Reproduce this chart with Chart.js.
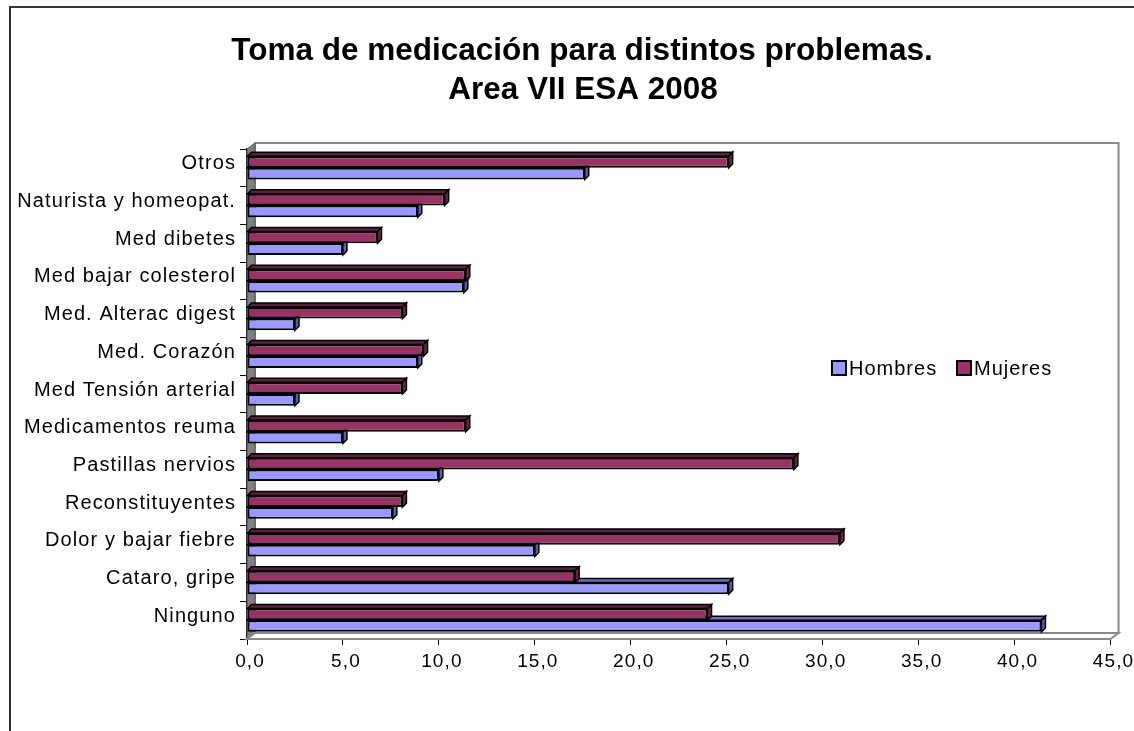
<!DOCTYPE html>
<html lang="es">
<head>
  <meta charset="UTF-8" />
  <title>Toma de medicación</title>
  <script src="https://cdn.jsdelivr.net/npm/chart.js"></script>
  <style>
    * {
      box-sizing: border-box;
    }
    body {
      margin: 0;
      background: #fff;
    }
    .box {
      width: 1134px;
      height: 731px;
    }
  </style>
</head>
<body>
  <div class="box">
    <canvas id="chart" width="1134" height="731"></canvas>
  </div>
  <script>
  const categories = ["Otros", "Naturista y homeopat.", "Med dibetes", "Med bajar colesterol", "Med. Alterac digest", "Med. Corazón", "Med Tensión arterial", "Medicamentos reuma", "Pastillas nervios", "Reconstituyentes", "Dolor y bajar fiebre", "Cataro, gripe", "Ninguno"];
  const hombres = [17.6, 8.9, 5.0, 11.3, 2.5, 8.9, 2.5, 5.0, 10.0, 7.6, 15.0, 25.1, 41.4];
  const mujeres = [25.1, 10.3, 6.8, 11.4, 8.1, 9.2, 8.1, 11.4, 28.5, 8.1, 30.9, 17.1, 24.0];
  const xTicks = [0, 5, 10, 15, 20, 25, 30, 35, 40, 45];
  const titleLines = ["Toma de medicación para distintos problemas.", "Area VII ESA 2008"];

  const FONT = "'Liberation Sans', Arial, sans-serif";
  const DX = 8;     // depth of the walls, horizontal
  const DY = 6;     // depth of the walls, vertical
  const BAR_D = 4;  // depth of each bar

  // outer frame, white background, title
  const framePlugin = {
    id: 'frame',
    beforeDraw(chart) {
      const ctx = chart.ctx;
      ctx.save();
      ctx.fillStyle = '#fff';
      ctx.fillRect(0, 0, chart.width, chart.height);
      ctx.strokeStyle = '#333';
      ctx.lineWidth = 2;
      ctx.strokeRect(10, 7, chart.width + 20, chart.height + 20);
      ctx.letterSpacing = '0px';
      ctx.fillStyle = '#000';
      ctx.font = 'bold 31.5px ' + FONT;
      ctx.textAlign = 'center';
      ctx.textBaseline = 'middle';
      ctx.fillText(titleLines[0], 582, 51);
      ctx.fillText(titleLines[1], 583, 90);
      ctx.restore();
      // excel spreads its letters a bit
      ctx.letterSpacing = '1.1px';
    }
  };

  // excel-like 3d walls behind the bars
  const wallsPlugin = {
    id: 'walls',
    beforeDatasetsDraw(chart) {
      const { left: L, right: R, top: T, bottom: B } = chart.chartArea;
      const ctx = chart.ctx;
      ctx.save();
      // back wall
      ctx.fillStyle = '#fff';
      ctx.strokeStyle = '#8a8a8a';
      ctx.lineWidth = 2;
      ctx.fillRect(L + DX, T - DY, R - L, B - T);
      ctx.strokeRect(L + DX, T - DY, R - L, B - T);
      // left wall
      ctx.fillStyle = '#808080';
      ctx.beginPath();
      ctx.moveTo(L, T);
      ctx.lineTo(L + DX, T - DY);
      ctx.lineTo(L + DX, B - DY);
      ctx.lineTo(L, B);
      ctx.closePath();
      ctx.fill();
      ctx.strokeStyle = '#555';
      ctx.lineWidth = 1;
      ctx.stroke();
      // floor
      ctx.fillStyle = '#fff';
      ctx.strokeStyle = '#8a8a8a';
      ctx.beginPath();
      ctx.moveTo(L, B);
      ctx.lineTo(L + DX, B - DY);
      ctx.lineTo(R + DX, B - DY);
      ctx.lineTo(R, B);
      ctx.closePath();
      ctx.fill();
      ctx.lineWidth = 2;
      ctx.stroke();
      ctx.restore();
    }
  };

  // top and side faces of each bar
  const bar3dPlugin = {
    id: 'bar3d',
    afterDatasetDraw(chart, args) {
      const ds = chart.data.datasets[args.index];
      const ctx = chart.ctx;
      const d = BAR_D;
      ctx.save();
      ctx.lineWidth = 1.5;
      ctx.strokeStyle = '#000';
      args.meta.data.forEach(bar => {
        const top = bar.y - bar.height / 2;
        const bot = bar.y + bar.height / 2;
        const x0 = bar.base;
        const x1 = bar.x;
        // top face
        ctx.fillStyle = ds.topColor;
        ctx.beginPath();
        ctx.moveTo(x0, top);
        ctx.lineTo(x0 + d, top - d);
        ctx.lineTo(x1 + d, top - d);
        ctx.lineTo(x1, top);
        ctx.closePath();
        ctx.fill();
        ctx.stroke();
        // right face
        ctx.fillStyle = ds.sideColor;
        ctx.beginPath();
        ctx.moveTo(x1, top);
        ctx.lineTo(x1 + d, top - d);
        ctx.lineTo(x1 + d, bot - d);
        ctx.lineTo(x1, bot);
        ctx.closePath();
        ctx.fill();
        ctx.stroke();
      });
      ctx.restore();
    }
  };

  // legend sitting inside the plot, Hombres first
  const legendPlugin = {
    id: 'sideLegend',
    afterDraw(chart) {
      const ctx = chart.ctx;
      const items = [chart.data.datasets[1], chart.data.datasets[0]];
      const pos = [832, 957];
      const y = 368;
      ctx.save();
      ctx.letterSpacing = '1px';
      ctx.font = '20px ' + FONT;
      ctx.textBaseline = 'middle';
      items.forEach((ds, i) => {
        const x = pos[i];
        ctx.fillStyle = ds.backgroundColor;
        ctx.fillRect(x, y - 7, 14, 14);
        ctx.strokeStyle = '#000';
        ctx.lineWidth = 2;
        ctx.strokeRect(x, y - 7, 14, 14);
        ctx.fillStyle = '#000';
        ctx.fillText(ds.label, x + 17, y + 1);
      });
      ctx.restore();
    }
  };

  new Chart(document.getElementById('chart'), {
    type: 'bar',
    data: {
      labels: categories,
      datasets: [
        {
          label: 'Mujeres',
          data: mujeres,
          backgroundColor: '#993366',
          topColor: '#5c1f3d',
          sideColor: '#6b2447',
          borderColor: '#000',
          borderWidth: 2,
          borderSkipped: false
        },
        {
          label: 'Hombres',
          data: hombres,
          backgroundColor: '#9999ff',
          topColor: '#6b6bcc',
          sideColor: '#5c5cb3',
          borderColor: '#000',
          borderWidth: 2,
          borderSkipped: false
        }
      ]
    },
    options: {
      indexAxis: 'y',
      responsive: false,
      animation: false,
      categoryPercentage: 0.62,
      barPercentage: 1.0,
      layout: {
        padding: { left: 0, right: 21, top: 149, bottom: 0 }
      },
      scales: {
        x: {
          min: 0,
          max: 45,
          afterBuildTicks: axis => {
            axis.ticks = xTicks.map(v => ({ value: v }));
          },
          afterFit: axis => {
            axis.height = 92;
          },
          grid: {
            drawOnChartArea: false,
            color: '#000',
            tickLength: 6
          },
          border: { color: '#000', width: 1.5 },
          ticks: {
            color: '#000',
            font: { family: FONT, size: 19 },
            padding: 5,
            labelOffset: 3,
            maxRotation: 0,
            callback: v => v.toFixed(1).replace('.', ',')
          }
        },
        y: {
          afterFit: axis => {
            axis.width = 247;
          },
          grid: {
            drawOnChartArea: false,
            color: '#000',
            tickLength: 7,
            offset: true
          },
          border: { color: '#000', width: 1.5 },
          ticks: {
            color: '#000',
            font: { family: FONT, size: 20 },
            padding: 4,
            labelOffset: -4
          }
        }
      },
      plugins: {
        legend: { display: false },
        tooltip: { enabled: false },
        title: { display: false }
      }
    },
    plugins: [framePlugin, wallsPlugin, bar3dPlugin, legendPlugin]
  });
  </script>
</body>
</html>
